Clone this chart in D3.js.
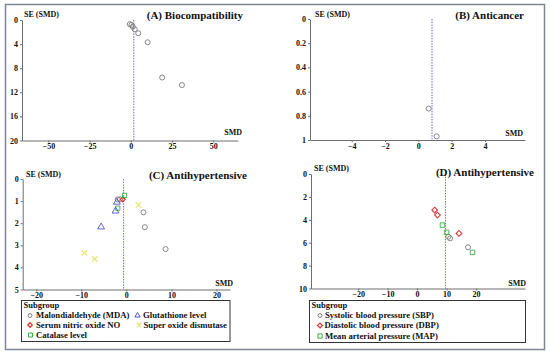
<!DOCTYPE html>
<html><head><meta charset="utf-8">
<script src="https://cdn.jsdelivr.net/npm/d3@7"></script>
<style>
body{margin:0;background:#fff;}
svg{display:block;font-family:"Liberation Serif","Times New Roman",serif;font-weight:bold;}
</style></head><body>
<svg id="c" width="550" height="356"></svg>
<script>
// ---- Data ----
const aSMD = [-0.6, 0.4, 1.2, 2.4, 4.5, 10.2, 19, 31];
const aSE  = [0.7, 0.83, 1.1, 1.55, 2.2, 3.7, 9.55, 10.8];
const aPooled = 1.8;
const aXTicks = [-50, -25, 0, 25, 50];
const aYTicks = [0, 4, 8, 12, 16, 20];

const bSMD = [0.62, 1.1];
const bSE  = [0.74, 0.97];
const bPooled = 0.82;
const bXTicks = [-4, -2, 0, 2, 4];
const bYTicks = [0, 0.2, 0.4, 0.6, 0.8, 1];

const cGroups = ["Malondialdehyde (MDA)", "Serum nitric oxide NO", "Catalase level", "Glutathione level", "Super oxide dismutase"];
const cMdaSMD = [-1.9, -1.4, 3.8, 4.1, 8.7];   const cMdaSE = [0.92, 0.92, 1.51, 2.18, 3.17];
const cNoSMD  = [-0.8];                        const cNoSE  = [0.92];
const cCatSMD = [-0.4, -1.9];                  const cCatSE = [0.74, 1.32];
const cGluSMD = [-2.1, -2.4, -5.6];            const cGluSE = [1.05, 1.45, 2.17];
const cSodSMD = [2.7, -9.3, -7.0];             const cSodSE = [1.18, 3.35, 3.62];
const cPooled = -0.6;
const cXTicks = [-20, -10, 0, 10, 20];
const cYTicks = [0, 1, 2, 3, 4, 5];

const dGroups = ["Systolic blood pressure (SBP)", "Diastolic blood pressure (DBP)", "Mean arterial pressure (MAP)"];
const dSbpSMD = [10.6, 11.2, 17.3];  const dSbpSE = [5.48, 5.62, 6.4];
const dDbpSMD = [5.96, 6.9, 14.2];   const dDbpSE = [3.15, 3.59, 5.19];
const dMapSMD = [8.6, 10.0, 18.8];   const dMapSE = [4.46, 5.1, 6.85];
const dPooled = 9.6;
const dXTicks = [-20, -10, 0, 10, 20];
const dYTicks = [0, 2, 4, 6, 8, 10];

// ---- Styles ----
const COL = {gray:"#7a7a7a", red:"#e0393b", green:"#3aaa4a", blue:"#4a55c8", yellow:"#e6e67e", dash:"#6a6ad8", axis:"#6e6e6e"};

const svg = d3.select("#c");

// outer frame
svg.append("rect").attr("x",5.5).attr("y",4.5).attr("width",539).attr("height",345)
  .attr("fill","none").attr("stroke","#7d8794").attr("stroke-width",1.5);

function symbolPath(type, size){
  const m = {circle:d3.symbolCircle, diamond:d3.symbolSquare, square:d3.symbolSquare, triangle:d3.symbolTriangle, x:d3.symbolX};
  return d3.symbol().type(m[type]).size(size)();
}
function rot(type){ return type==="diamond" ? " rotate(45)" : ""; }

function panel(cfg){
  const g = svg.append("g");
  const x = d3.scaleLinear().domain(cfg.xDom).range(cfg.xRange);
  const y = d3.scaleLinear().domain(cfg.yDom).range(cfg.yRange);
  const xAxisY = cfg.yRange[1];
  const xa = g.append("g").attr("transform",`translate(0,${xAxisY})`)
    .call(d3.axisBottom(x).tickValues(cfg.xTicks).tickSize(2).tickSizeOuter(0).tickFormat(d3.format("")));
  const ya = g.append("g").attr("transform",`translate(${cfg.xRange[0]},0)`)
    .call(d3.axisLeft(y).tickValues(cfg.yTicks).tickSize(2).tickSizeOuter(0).tickFormat(d3.format("")));
  [xa,ya].forEach(a=>{
    a.select(".domain").attr("stroke",COL.axis).attr("stroke-width",1);
    a.selectAll(".tick line").attr("stroke",COL.axis);
    a.selectAll("text").attr("font-size",8).attr("font-family","Liberation Serif").attr("font-weight","bold").attr("fill","#111");
  });
  xa.selectAll("text").attr("dy","0.71em").attr("y",3);
  ya.selectAll("text").attr("x",-4);
  // pooled line
  g.append("line").attr("x1",x(cfg.pooled)).attr("x2",x(cfg.pooled))
    .attr("y1",cfg.yRange[0]).attr("y2",cfg.yRange[1])
    .attr("stroke",COL.dash).attr("stroke-width",1).attr("stroke-dasharray","1.5,1.2");
  // points
  cfg.series.forEach(s=>{
    g.append("g").selectAll("path").data(s.smd.map((v,i)=>[v,s.se[i]])).join("path")
      .attr("transform",d=>`translate(${x(d[0])},${y(d[1])})${rot(s.type)}`)
      .attr("d",symbolPath(s.type,s.size))
      .attr("fill","none").attr("stroke",s.color).attr("stroke-width",s.sw||0.9);
  });
  // labels
  g.append("text").attr("x",cfg.seX).attr("y",cfg.seY).attr("font-size",8).attr("fill","#111").text("SE (SMD)");
  g.append("text").attr("x",cfg.smdX).attr("y",cfg.smdY).attr("text-anchor","end").attr("font-size",8).attr("fill","#111").text("SMD");
  g.append("text").attr("x",cfg.tX).attr("y",cfg.tY).attr("text-anchor","end").attr("font-size",11).attr("fill","#111").text(cfg.title);
  return g;
}

panel({xDom:[-66,65], xRange:[22,238], yDom:[0,20], yRange:[20,140.5],
  xTicks:aXTicks, yTicks:aYTicks, pooled:aPooled,
  series:[{smd:aSMD, se:aSE, type:"circle", size:20, color:COL.gray}],
  seX:24, seY:17, smdX:242, smdY:135, tX:243, tY:19, title:"(A) Biocompatibility"});

panel({xDom:[-6.5,6.4], xRange:[310,525], yDom:[0,1], yRange:[19,140],
  xTicks:bXTicks, yTicks:bYTicks, pooled:bPooled,
  series:[{smd:bSMD, se:bSE, type:"circle", size:20, color:COL.gray}],
  seX:315, seY:17, smdX:523, smdY:136, tX:524, tY:19, title:"(B) Anticancer"});

panel({xDom:[-23,23], xRange:[22.7,230], yDom:[0,5], yRange:[179,289.5],
  xTicks:cXTicks, yTicks:cYTicks, pooled:cPooled,
  series:[
    {smd:cMdaSMD, se:cMdaSE, type:"circle", size:20, color:COL.gray},
    {smd:cNoSMD, se:cNoSE, type:"diamond", size:12, color:COL.red, sw:1.2},
    {smd:cCatSMD, se:cCatSE, type:"square", size:18, color:COL.green},
    {smd:cGluSMD, se:cGluSE, type:"triangle", size:20, color:COL.blue},
    {smd:cSodSMD, se:cSodSE, type:"x", size:22, color:COL.yellow, sw:1.3}],
  seX:26, seY:177, smdX:233, smdY:286, tX:247, tY:179, title:"(C) Antihypertensive"});

panel({xDom:[-36,36.6], xRange:[311,525], yDom:[0,10], yRange:[174,288.5],
  xTicks:dXTicks, yTicks:dYTicks, pooled:dPooled,
  series:[
    {smd:dSbpSMD, se:dSbpSE, type:"circle", size:20, color:COL.gray},
    {smd:dDbpSMD, se:dDbpSE, type:"diamond", size:16, color:COL.red, sw:1.1},
    {smd:dMapSMD, se:dMapSE, type:"square", size:20, color:COL.green}],
  seX:314, seY:171, smdX:526, smdY:286, tX:534, tY:176, title:"(D) Antihypertensive"});

// ---- Legends ----
function legend(box, items){
  const g = svg.append("g");
  g.append("rect").attr("x",box.x).attr("y",box.y).attr("width",box.w).attr("height",box.h)
    .attr("fill","none").attr("stroke","#333").attr("stroke-width",1);
  g.append("text").attr("x",box.x+2).attr("y",box.y+7).attr("font-size",8.5).attr("fill","#111").text("Subgroup");
  items.forEach(it=>{
    g.append("path").attr("transform",`translate(${it.sx},${it.y})${rot(it.type)}`).attr("d",symbolPath(it.type,it.size))
      .attr("fill","none").attr("stroke",it.color).attr("stroke-width",it.sw||1);
    g.append("text").attr("x",it.tx).attr("y",it.y).attr("dy","0.33em").attr("font-size",8.7).attr("fill","#111").text(it.label);
  });
}
legend({x:21.5,y:300.5,w:208.5,h:41}, [
  {label:cGroups[0], type:"circle", size:12, color:COL.gray, sx:30, tx:36, y:315.5},
  {label:cGroups[1], type:"diamond", size:10, color:COL.red, sx:30, tx:36, y:325, sw:1.3},
  {label:cGroups[2], type:"square", size:16, color:COL.green, sx:30.5, tx:36, y:335},
  {label:cGroups[3], type:"triangle", size:12, color:COL.blue, sx:137.5, tx:143, y:315.5},
  {label:cGroups[4], type:"x", size:14, color:COL.yellow, sx:139, tx:143.5, y:325, sw:1.3}]);
legend({x:309.5,y:300.5,w:216,h:42}, [
  {label:dGroups[0], type:"circle", size:12, color:COL.gray, sx:320, tx:325, y:315.5},
  {label:dGroups[1], type:"diamond", size:12, color:COL.red, sx:320, tx:324.5, y:325.5, sw:1.3},
  {label:dGroups[2], type:"square", size:18, color:COL.green, sx:320, tx:325, y:336}]);
</script></body></html>
